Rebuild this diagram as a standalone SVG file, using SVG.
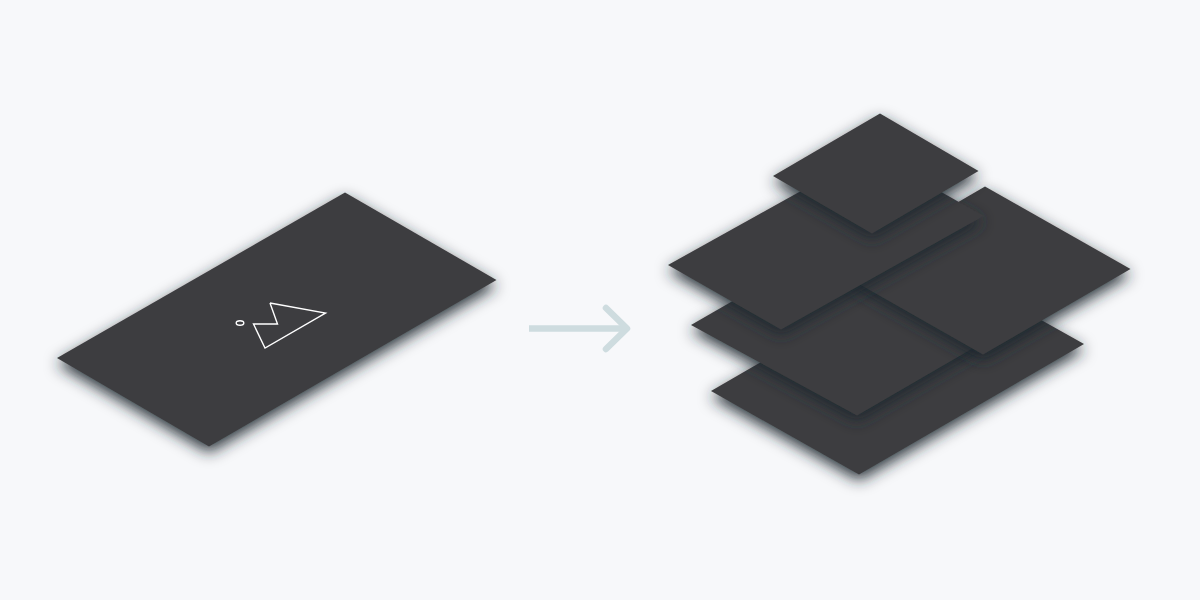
<svg xmlns="http://www.w3.org/2000/svg" width="1200" height="600" viewBox="0 0 1200 600">
<style>
.plate{fill:#3d3d40;filter:url(#sh)}
.icon{fill:none;stroke:#fff;stroke-width:1.4}
.arrow{fill:none;stroke:#cedcdf;stroke-width:6.500}
</style>
<defs>
<filter id="sh" x="-20%" y="-20%" width="140%" height="150%">
<feGaussianBlur in="SourceAlpha" stdDeviation="7.500"/>
<feOffset dx="0" dy="6" result="b"/>
<feFlood flood-color="#1e282f" flood-opacity="0.95"/>
<feComposite in2="b" operator="in"/>
<feMerge><feMergeNode/><feMergeNode in="SourceGraphic"/></feMerge>
</filter>
</defs>
<rect width="1200" height="600" fill="#f7f8fa"/>
<g id="source">
<polygon class="plate" points="345,192.500 496.500,280 209,446.500 57,358"/>
<polyline class="icon" points="270,303 325.500,313 265,348 253.500,324 277.500,324 270,303"/>
<ellipse class="icon" cx="240" cy="323" rx="3.800" ry="2.200"/>
</g>
<g id="connectors">
<path class="arrow" d="M529,328.500H627"/>
<path class="arrow" stroke-linecap="round" stroke-linejoin="round" d="M606,308L627,328.500L606,349"/>
</g>
<g id="layer-1"><polygon class="plate" points="711,391 936,261 1084,344 859,474.500"/></g>
<g id="layer-2"><polygon class="plate" points="691,325 857,415.500 1030,315 865,225"/></g>
<g id="layer-3"><polygon class="plate" points="985,186.500 1130.500,269 983,354.500 838,272"/></g>
<g id="layer-4"><polygon class="plate" points="668,265 781,329.500 983.500,216 871,152"/></g>
<g id="layer-5"><polygon class="plate" points="880,113.500 978.500,171 872,233.500 773,176"/></g>
</svg>
